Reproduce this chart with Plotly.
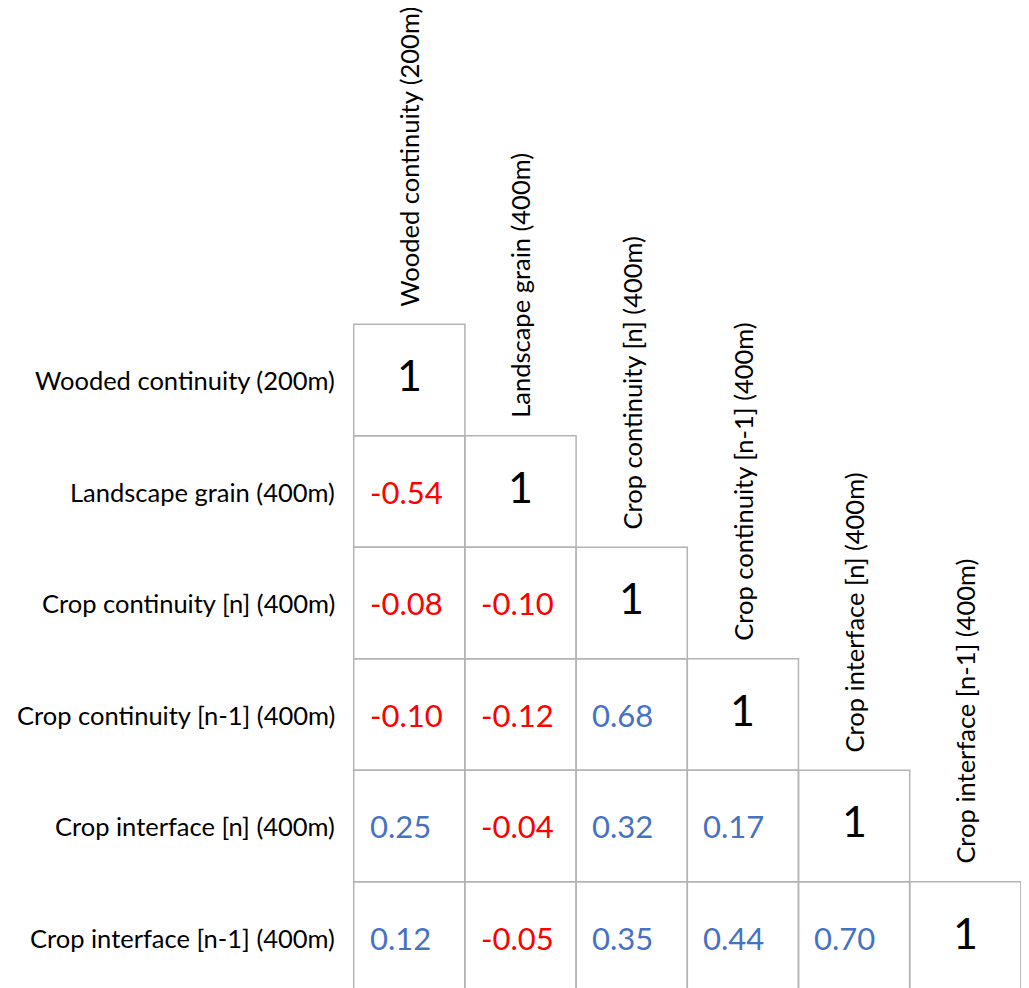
import plotly.graph_objects as go

variables = [
    "Wooded continuity (200m)",
    "Landscape grain (400m)",
    "Crop continuity [n] (400m)",
    "Crop continuity [n-1] (400m)",
    "Crop interface [n] (400m)",
    "Crop interface [n-1] (400m)",
]

# lower-triangle correlation values (row i, columns 0..i-1)
corr_row1 = [-0.54]
corr_row2 = [-0.08, -0.10]
corr_row3 = [-0.10, -0.12, 0.68]
corr_row4 = [0.25, -0.04, 0.32, 0.17]
corr_row5 = [0.12, -0.05, 0.35, 0.44, 0.70]
lower = [[], corr_row1, corr_row2, corr_row3, corr_row4, corr_row5]

FONT = "Lato"
RED = "#FF0000"
BLUE = "#4472C4"
GRID = "#B4B4B4"

n = len(variables)
fig = go.Figure()
shapes = []
annotations = []

# cells
for i in range(n):
    for j in range(i + 1):
        shapes.append(dict(type="rect", xref="x", yref="y",
                           x0=j, x1=j + 1, y0=i, y1=i + 1,
                           line=dict(color=GRID, width=1.5),
                           fillcolor="rgba(0,0,0,0)", layer="above"))

# values
for i in range(n):
    for j, v in enumerate(lower[i]):
        annotations.append(dict(
            x=j, y=i + 0.5, xref="x", yref="y",
            text=f"{v:.2f}", showarrow=False,
            xanchor="left", yanchor="middle", xshift=14,
            font=dict(family=FONT, size=31, color=RED if v < 0 else BLUE)))
    annotations.append(dict(
        x=i + 0.5, y=i + 0.45, xref="x", yref="y",
        text="1", showarrow=False, xanchor="center", yanchor="middle",
        font=dict(family=FONT, size=43, color="black")))

# row labels
for i, lab in enumerate(variables):
    annotations.append(dict(
        x=0, y=i + 0.5, xref="x", yref="y", text=lab, showarrow=False,
        xanchor="right", yanchor="middle", xshift=-17,
        font=dict(family=FONT, size=25.5, color="black")))

# column headers (rotated)
for j, lab in enumerate(variables):
    annotations.append(dict(
        x=j + 0.5, y=j, xref="x", yref="y", text=lab, showarrow=False,
        textangle=-90, xanchor="center", yanchor="bottom", yshift=16,
        font=dict(family=FONT, size=25.5, color="black")))

fig.add_trace(go.Scatter(x=[0, n], y=[0, n], mode="markers",
                         marker=dict(opacity=0), hoverinfo="skip",
                         showlegend=False))

fig.update_layout(
    width=1029, height=988,
    margin=dict(l=0, r=0, t=0, b=0),
    paper_bgcolor="white", plot_bgcolor="white",
    xaxis=dict(range=[-3.109, 6.145], visible=False, fixedrange=True),
    yaxis=dict(range=[6.024, -2.837], visible=False, fixedrange=True),
    shapes=shapes, annotations=annotations, showlegend=False,
)

fig.write_html("out.html")
